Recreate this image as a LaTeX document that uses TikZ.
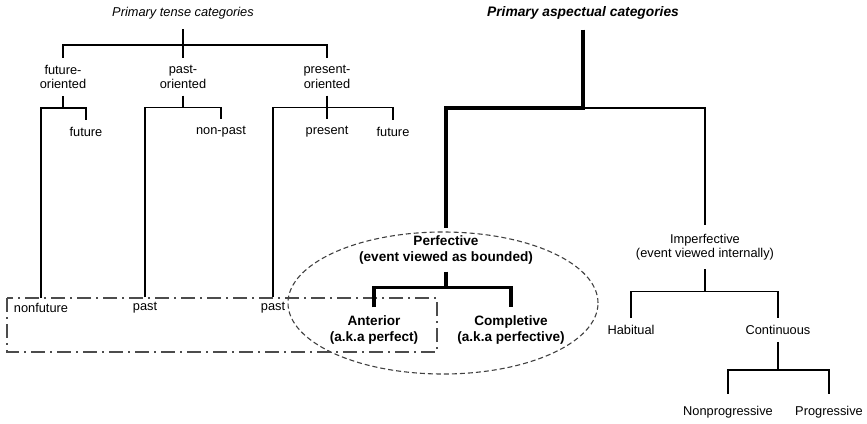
\documentclass[tikz,border=0pt]{standalone}
\usepackage{fontspec}
\setmainfont{Liberation Sans}

\begin{document}
\begin{tikzpicture}[x=1pt,y=-1pt,
  lbl/.style={font=\fontsize{12.8}{14.5}\selectfont, align=center, inner xsep=1pt, inner ysep=7pt},
  blbl/.style={lbl, font=\fontsize{13.6}{16}\selectfont\bfseries},
  tline/.style={line width=1.6pt},
  bline/.style={line width=3.3pt}]
  \useasboundingbox (0,0) rectangle (867,423);

  % groupings
  \draw[dash pattern=on 14pt off 5pt on 2pt off 5pt, line width=1.1pt, black!70] (7,298) rectangle (437,352);
  \draw[dash pattern=on 5pt off 3pt, line width=1.1pt, black!75] (443,303) ellipse [x radius=155pt, y radius=71pt];

  % tense tree
  \node[lbl, font=\fontsize{12.8}{14.5}\selectfont\itshape, inner ysep=10pt] (tense) at (183,13) {Primary tense categories};
  \node[lbl] (fo) at (63,77) {future-\\oriented};
  \node[lbl] (po) at (183,77) {past-\\oriented};
  \node[lbl] (pr) at (327,77) {present-\\oriented};
  \node[lbl] (fut1) at (86,132) {future};
  \node[lbl] (npast) at (221,132) {non-past};
  \node[lbl] (pres) at (327,132) {present};
  \node[lbl] (fut2) at (393,132) {future};
  \node[lbl, inner ysep=5pt] (nonfut) at (41,308) {nonfuture};
  \node[lbl, inner ysep=5pt] (past1) at (145,308) {past};
  \node[lbl, inner ysep=5pt] (past2) at (273,308) {past};

  \draw[tline] (tense) -- (po);
  \draw[tline] (fo.north) -- ++(0,-13) -| (pr.north);
  \draw[tline] (fo.south) -- ++(0,12) coordinate (fo-bar);
  \draw[tline] (nonfut.north) |- (fo-bar) -| (fut1.north);
  \draw[tline] (po.south) -- ++(0,12) coordinate (po-bar);
  \draw[tline] (past1.north) |- (po-bar) -| (npast.north);
  \draw[tline] (pr) -- (pres);
  \draw[tline] (past2.north) |- ([yshift=-12pt]pr.south) -| (fut2.north);

  % aspect tree
  \node[blbl, font=\fontsize{13.8}{16}\selectfont\bfseries\itshape, inner ysep=10pt] (asp) at (583,13) {Primary aspectual categories};
  \node[blbl] (perf) at (446,250) {Perfective\\(event viewed as bounded)};
  \node[blbl, inner ysep=8pt] (ant) at (374,330) {Anterior\\(a.k.a perfect)};
  \node[blbl, inner ysep=8pt] (compl) at (511,330) {Completive\\(a.k.a perfective)};
  \node[lbl, inner ysep=9pt] (imp) at (705,247) {Imperfective\\(event viewed internally)};
  \node[lbl] (hab) at (631,330) {Habitual};
  \node[lbl] (cont) at (778,330) {Continuous};
  \node[lbl, inner ysep=12pt] (nprog) at (728,412) {Nonprogressive};
  \node[lbl, inner ysep=12pt] (prog) at (829,412) {Progressive};

  \coordinate (asp-bar) at (583,108);
  \draw[bline] (asp) -- (asp-bar) -| (perf.north);
  \draw[tline] (asp-bar) -| (imp.north);
  \draw[bline] (perf.south) -- ++(0,16) coordinate (perf-bar);
  \draw[bline] (ant.north) |- (perf-bar) -| (compl.north);
  \draw[tline] (imp.south) -- ++(0,22) coordinate (imp-bar);
  \draw[tline] (hab.north) |- (imp-bar) -| (cont.north);
  \draw[tline] (cont.south) -- ++(0,28) coordinate (cont-bar);
  \draw[tline] (nprog.north) |- (cont-bar) -| (prog.north);
\end{tikzpicture}
\end{document}
